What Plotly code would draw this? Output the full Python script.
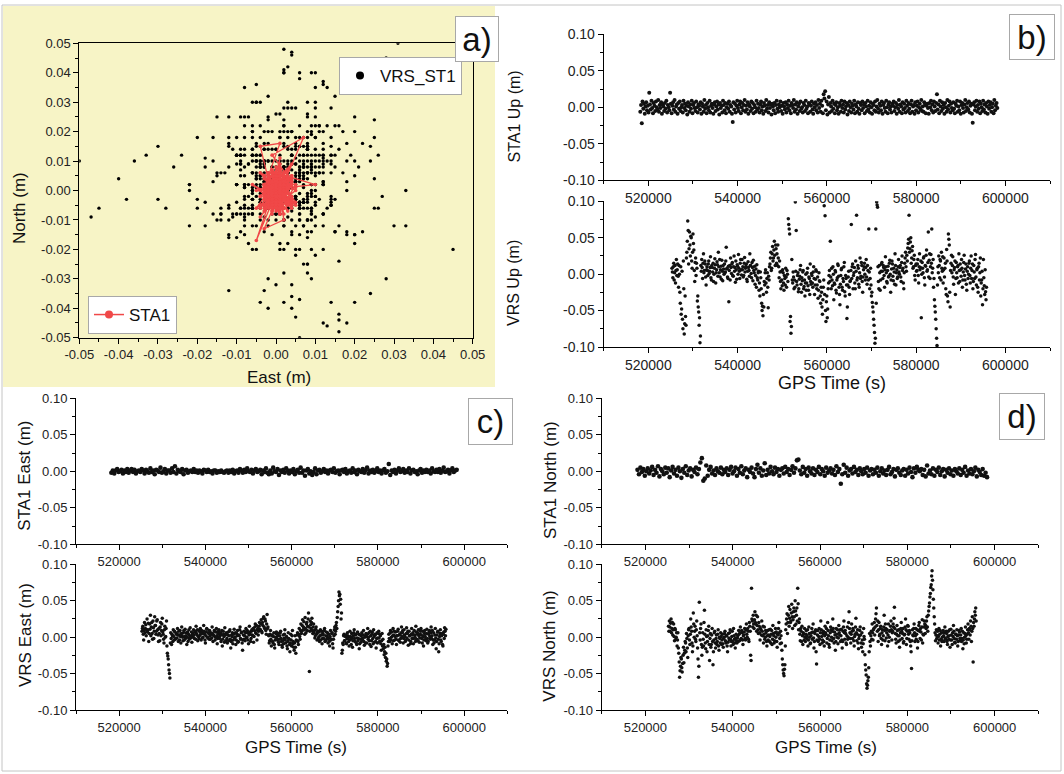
import plotly.graph_objects as go

W, H = 1064, 774
FONT = "Liberation Sans, Arial, sans-serif"

# GPS epochs: first epoch and sampling step (s); the STA1 Up record is sampled twice as often
sta1_t0, sta1_step, sta1_up_step = 518200, 335, 167
vrs_t0, vrs_step = 525300, 98

# coordinate residuals in mm (1 mm resolution)
sta1_up_mm = [
    -6, 3, -22, 8, -2, 5, -9, 1, 7, -4, 2, -7, 20, 4, -3, 9, -1, -8, 6, 2,
    -5, 8, 0, -3, 10, -6, 3, -1, 7, -9, 4, 1, -5, 6, -2, 9, -7, 3, 0, -4,
    20, 5, -8, 2, 7, -3, 10, -6, 1, 4, -9, 6, -2, 8, -5, 0, 3, -7, 9, -1,
    5, -4, 2, -10, 7, 1, -6, 4, -2, 9, -8, 3, 6, -1, -5, 8, 0, -7, 4, 2,
    -3, 7, -9, 5, 1, -6, 10, -2, 3, -8, 6, 0, -4, 9, -7, 2, 5, -1, -9, 4,
    7, -5, 1, 8, -3, 4, -10, 6, -1, 2, -7, 9, 3, -4, 6, -8, 0, 5, -2, 8,
    -6, 3, 1, -9, -20, 7, -3, 5, -7, 2, 9, -1, -5, 4, 8, -8, 0, 6, -4, 3,
    10, -6, 2, -3, 7, -9, 4, 1, -5, 8, -2, 6, -8, 3, 0, -6, 9, -3, 5, -1,
    -7, 4, 8, -4, 1, -9, 6, 2, -5, 10, -2, 3, -7, 7, -1, 4, -10, 5, 1, -4,
    6, -8, 3, 9, -2, -6, 4, 0, 8, -5, 2, -9, 6, 1, -3, 7, -7, 4, -1, 9,
    -4, 2, -8, 6, 3, -1, 10, -6, 4, -3, 7, -9, 1, 5, -5, 8, -2, 0, -7, 6,
    3, -5, 9, -2, 1, -8, 6, 4, -6, 2, 8, -3, -9, 5, 0, 7, -4, 3, -7, 10,
    -1, 5, -6, 9, 2, -8, 18, 12, 22, -4, 8, -10, 4, 14, -7, 6, 1, -5, 9, -2,
    5, -8, 3, 7, -4, 0, -9, 6, 2, -6, 9, -1, 4, -7, 8, -3, 1, 6, -10, 3,
    -5, 8, 0, -7, 5, 2, -3, 9, -8, 4, 1, -6, 7, -2, -9, 6, 3, -4, 8, -1,
    4, -8, 6, 1, -5, 9, -3, 2, -7, 7, 0, -9, 5, 3, -4, 8, -6, 1, 10, -2,
    -7, 5, 2, -4, 8, -9, 3, 6, -1, -6, 9, 0, -8, 4, 7, -3, 1, -7, 5, 2,
    8, -5, 0, 6, -9, 3, -2, 10, -6, 4, 1, -8, 7, -3, 5, -1, -7, 9, 2, -5,
    6, -2, -8, 4, 9, -6, 1, 3, -9, 7, -4, 2, 8, -7, 0, 5, -3, 10, -5, 1,
    -6, 7, 3, -8, 2, 5, -1, -9, 6, 0, 9, -4, 4, -7, 8, 1, -5, 6, 18, -3,
    4, -8, 9, 1, -5, 7, -2, 3, -9, 6, 0, -6, 10, -3, 2, 8, -7, 5, -1, -4,
    7, -2, -8, 5, 2, 9, -6, 1, -4, 8, -9, 3, 6, -1, -7, 4, 10, -5, 0, 6,
    -3, 8, -7, 2, 5, -9, -21, 4, 7, -4, 1, 9, -6, 3, -2, 8, -8, 5, 0, -5,
    9, -3, 4, -7, 6, 1, -9, 8, -2, 3, 7, -6, 0, 5, -8, 10, -4, 2, 6, -1,
]
sta1_east_mm = [
    -2, 1, -3, 1, 3, -1, 0, 2, -3, 1, -1, 3, -2, 1, 3, -1, 2, -3, 0, 1,
    -1, 3, 1, -3, 2, 0, -2, 4, -1, 1, -4, 2, 1, -1, 5, -2, 0, 3, -3, 1,
    1, -2, 4, -1, 7, -3, 2, 0, -1, 3, -4, 1, 2, -2, 0, 1, -1, 3, -1, 1,
    -2, 1, 0, -3, 2, 1, -1, 2, -1, 0, -3, 1, 1, -2, 0, -1, 1, -1, -2, 0,
    1, -2, 1, -1, 2, -3, 0, 1, -2, 3, 1, -2, 2, -1, 4, 0, -1, 2, -3, 1,
    3, -1, 0, 2, -4, 1, -1, 4, -2, -4, 1, -3, 5, 0, -1, 3, -5, 1, -1, 2,
    -2, 4, 1, -3, 1, -1, 3, -4, 0, 2, -2, 5, -2, 1, -6, 1, 3, -3, 0, -5,
    -1, 4, -4, 1, 2, -2, 0, 3, -1, 1, -3, 1, 2, -1, 4, -2, 0, 1, -4, 1,
    2, -1, 3, -3, 0, 1, -2, 4, -1, 1, -4, 2, 0, -1, 3, -2, 1, 5, -3, 1,
    -1, 2, -2, 0, 4, -1, 1, -3, 1, 3, -2, 0, 10, -5, 1, -1, 2, -3, 1, 4,
    -1, 0, 3, -2, 1, -1, 4, -3, 1, 2, -1, 0, -4, 1, 3, -2, 1, -1, 2, -1,
    1, -3, 4, 0, -1, 2, -1, 3, -2, 1, 5, -1, 0, 2, -3, 1, 4, -1, 1, 2,
]
sta1_north_mm = [
    2, -4, 5, -1, 3, -6, 0, 4, -3, 1, 6, -5, 2, -2, 7, -7, 3, 0, -4, 5,
    -2, 4, -8, 1, 6, -3, 2, -6, 5, 0, -9, 3, -2, 7, -5, 1, 4, -7, 2, -1,
    5, -4, 3, 12, 18, -13, -10, 8, -6, 2, 6, -3, 1, -5, 4, 0, -2, 5, -4, 2,
    -1, 4, -5, 2, 6, -3, 0, 5, -6, 3, -2, 7, -4, 1, 4, -8, 2, -1, 5, -3,
    -8, 3, 9, -2, 4, -6, 1, 11, -5, 2, -3, 6, 0, -4, 5, -1, 3, -6, 2, 4,
    -3, 6, -1, 3, -5, 2, 7, -2, 4, 15, 16, 1, -4, 6, -2, 3, -6, 5, 0, -3,
    4, -5, 2, -1, 6, -4, 3, 0, -6, 5, -2, 1, 4, -3, 2, -5, 7, -1, 3, -17,
    -4, 9, -2, 5, -6, 1, 3, -3, 6, -1, 2, -5, 4, 0, -4, 3, -2, 5, -6, 1,
    3, -4, 2, -2, 5, -6, 0, 4, -3, 1, -5, 2, 6, -4, -1, 3, -7, 2, 4, -2,
    -5, 1, 3, -6, 2, -3, 5, -1, -8, 4, -2, 6, 2, 0, 3, -5, 2, -7, 8, -3,
    1, -4, 4, -6, 2, -1, 5, -5, 0, 3, -7, 2, -2, 4, -4, 1, -6, 3, 0, -3,
    4, -5, 2, -2, 6, -6, 1, -3, 3, -4, 0, 5, -7, 2, -1, -5, 3, -6, -2, -8,
]
vrs_up_mm = [
    8, 3, -5, 10, 15, -8, 2, 12, -12, 5, 20, -2, 6, 14, -3, -18, 12, 0, -25, -40,
    10, -55, -48, 4, -62, -75, 18, -20, -82, -68, -30, -58, -70, 22, 30, 45, 73, 60, 14, 35,
    58, 40, 25, 52, 50, 18, 8, 30, 55, 42, 33, 5, -10, 16, 22, -2, 15, 8, -37, -30,
    -45, -52, -70, -60, -94, -85, 12, 4, 20, 9, -6, 15, 28, 2, 5, 18, 14, -4, -15, 6,
    10, 5, -2, 14, 18, 1, 4, 9, 24, -5, -8, 12, 9, 3, 15, -10, 0, 8, 21, 13,
    -12, 2, 6, 17, 13, -3, 30, 10, 2, 20, -4, 6, 11, -7, 19, 4, -9, 12, 7, 0,
    14, 2, 3, 18, 37, 7, 8, -4, -6, 11, -38, 5, 12, -8, 22, 9, 1, 14, 16, -2,
    -3, 10, 25, 4, 9, -11, 18, 6, -7, 13, 11, 0, 27, 8, 4, -6, 15, 20, 6, -1,
    20, 6, 10, -4, -2, 15, 23, 3, 8, 11, 14, -7, -10, 4, 17, 9, 5, -3, 28, 12,
    12, 1, -5, 16, 9, -9, 19, 5, 2, 11, -14, -2, 7, -18, 13, -5, -8, 2, 4, -22,
    -12, -30, 3, -5, -20, -40, -50, -44, -57, -28, -45, -10, -15, 2, 6, -12, -25, -6, 2, -18,
    -46, -3, -8, 10, 14, 22, 30, 5, 8, 28, 38, 18, 22, 33, 45, 26, 12, 40, 35, 15,
    28, 12, 40, 22, 10, -5, 18, 3, -10, -20, 4, -8, -16, 6, 2, -12, -22, -2, -6, -15,
    8, -4, -18, 5, 0, -10, 76, 68, 62, 55, -65, -58, -81, -72, 20, -8, -12, 3, -4, -20,
    -8, -18, 99, 4, 60, -10, -15, -2, 2, -24, -20, -7, -3, 6, 12, -14, -25, -5, -9, 3,
    5, -20, -17, -8, -30, -12, 0, -22, -12, 2, 8, -16, -22, -4, -6, -28, 14, -10, -14, 1,
    -2, -12, -18, 3, 10, -6, -28, -15, -7, 6, 4, -20, -15, -4, -33, -22, 2, -9, -10, -30,
    -40, -18, -25, -45, -55, -35, -18, -8, 94, -28, 80, -50, -65, -38, -30, -60, -48, -20, -12, -2,
    5, -10, 45, -4, -20, 8, -8, -16, 10, 0, -35, -12, -14, 5, 3, -22, -26, -8, -5, 14,
    12, -3, -18, -28, -42, -14, -2, 6, 8, -18, -22, -6, -10, 10, 16, -24, -30, -2, -6, -15,
    -61, -45, -15, -4, 4, -18, -28, -10, -9, 5, 68, -6, 10, 14, -20, -2, 2, 9, -12, -20,
    18, 4, 81, -8, -5, 12, 8, -14, -18, 2, 22, -6, -3, 16, 12, -10, -25, -4, 6, 10,
    15, 0, -8, 9, 20, -4, -14, 12, 5, -8, 62, 3, -20, -6, 8, -15, -30, -25, -39, -45,
    -52, -62, -70, -80, -95, -88, 62, -40, 99, 95, 92, 10, -10, -20, 12, 2, -22, -8, 4, 14,
    16, 4, -6, 12, 9, -2, -18, 6, 24, 10, 2, -10, -12, 5, 11, -4, -3, 15, 19, 0,
    -25, -8, 7, 18, 14, -3, -9, 8, 3, -14, 28, 12, -15, 2, 6, -6, -4, 10, 20, 3,
    0, 9, 12, -4, -10, 16, 25, 5, 8, -12, -20, 2, 15, 22, 30, 10, 4, 26, 18, 36,
    42, 48, 81, 30, 35, 44, 50, 15, 22, 32, 38, 8, 10, 20, 26, -2, -8, 12, 14, 4,
    5, 14, 20, -2, -12, 10, 28, 6, 9, 18, -60, 0, 16, 8, 2, 22, 24, -5, -15, 12,
    11, 26, 33, 4, 6, 16, 58, -4, 19, 28, -6, 10, 27, 15, 62, 2, 8, 20, -18, -6,
    -35, -44, -52, -62, -75, -88, -98, -15, 10, 2, 25, 12, -5, 20, 18, -8, 30, 8, 4, 24,
    -12, 6, 22, -4, 8, 15, -20, -28, 34, 18, -30, -38, 55, 48, 40, -25, -45, 5, 15, 26,
    2, 12, 24, -4, -14, 6, 9, 18, -28, -6, 16, 2, -5, 10, 12, -12, 28, 5, -10, 14,
    6, -3, 20, 8, -18, -8, 3, 16, 26, -2, -8, 7, 14, -14, -22, 4, 10, -6, 0, 15,
    18, -2, -12, 8, 25, -6, 5, 14, -20, -10, 12, 3, -6, 20, 27, -4, -15, 6, 8, -18,
    -25, 10, 15, -8, 2, 22, -30, -12, -8, 4, -42, -20, 20, -5, -16, -28, 6, -24, -35, -18,
]
vrs_east_mm = [
    8, 12, 15, 4, -4, 9, 20, 6, 12, 17, 2, 10, 25, 7, 10, 19, -6, 5, 18, 11,
    30, 2, 14, 20, 5, -3, 22, 13, -2, 8, 28, 16, 16, 4, 8, 22, 24, 10, 3, -6,
    12, 5, -5, 14, 20, 2, 9, 18, 26, 7, 4, -3, -8, 10, 15, 0, 1, 12, 22, -12,
    -22, -26, -30, -38, -45, -50, -56, -8, 6, -2, -10, 4, 2, -6, 10, 1, -4, 8, 7, -3,
    -2, 4, 5, -1, 12, 3, -6, 8, 3, -4, 9, 1, -8, 5, 14, 2, 0, -5, 6, 9,
    -4, 1, 11, -2, 2, 6, -10, 0, 7, -6, 4, 10, -3, 2, 13, -1, 1, 7, -7, 3,
    5, 0, 10, 3, -2, 7, 8, -3, 15, 5, 3, 10, -5, 1, 9, -2, 2, 7, 12, 4,
    -4, 9, 6, -1, 0, 5, 16, 8, 4, -4, -8, 2, 7, 12, 11, 0, -1, 6, 5, -3,
    9, 2, -3, 6, 4, -1, 14, 5, -6, 3, 2, 9, 8, -4, 0, 7, 12, 2, -9, -2,
    5, 8, 10, 1, -2, 4, 6, -6, 3, 9, -12, -3, 8, 4, 1, -7, 13, 3, -5, 6,
    4, -2, -8, 3, 7, -5, 2, 8, 10, -3, -15, -6, 3, 1, 6, -9, -4, 4, 11, -1,
    0, 6, -10, -4, 5, 2, 9, -7, -6, 3, 2, 10, 14, -2, -3, 6, 7, -8, -18, -4,
    3, -3, 8, 2, -5, 6, 12, -1, 0, 9, 6, -4, -9, 3, 15, 7, 4, -6, -2, 8,
    10, 3, 2, 12, -7, 1, 9, 14, 18, 6, 5, 16, -4, 10, 12, 3, 8, 15, 20, 11,
    10, 18, 24, 8, 6, 20, 16, 26, 28, 14, 12, 25, 22, 9, 4, 18, 31, 12, 14, 3,
    2, -8, -5, 4, 9, -3, -12, 2, 3, -6, -8, 1, 6, -10, -15, -4, 0, 5, 7, -2,
    -4, 2, 5, -7, -10, -3, 2, 6, 8, -2, -6, -11, -14, -5, 3, -9, -2, 4, 10, -4,
    -8, 0, 1, -12, -16, -6, 6, -2, -3, -10, -20, -8, 4, -4, -12, 2, 9, -9, -6, -14,
    -18, -8, 2, -14, -22, -4, -5, 3, 6, -6, -10, 4, 12, 1, -3, 9, 18, 5, 8, 16,
    24, 10, 14, 21, 10, 4, 27, 12, 6, 18, 20, 9, 15, 25, 33, 14, -47, 8, 22, 17,
    12, 20, 26, 9, 5, 14, 18, 6, 9, -1, 2, 11, 14, 4, -4, 6, 8, -3, 0, 7,
    -6, 2, 10, -4, 3, 8, -9, -2, 5, 3, -2, 9, 12, -6, -5, 2, 7, -3, 1, 6,
    -8, -2, 4, -6, -12, 1, 9, -4, -3, 5, 6, -9, -15, -3, 2, 10, 14, 4, 8, 16,
    20, 12, 27, 35, 42, 50, 62, 57, 59, 45, 52, 25, 33, -22, -18, -8, -10, 2, 4, -5,
    -5, 1, 3, -8, -9, -2, 6, 2, 0, -6, -12, -4, 8, 1, -3, -10, 5, -1, -14, -5,
    2, 6, 10, -2, -6, 3, 4, -8, -10, -1, 7, -5, -2, 4, -16, -9, 3, -3, -7, 2,
    6, -2, -4, 3, 9, -6, -11, 0, 2, -8, 5, 1, -8, 4, 12, -3, 0, 6, -5, -10,
    8, 2, -13, -5, 4, 7, -2, -9, 10, 1, -7, 4, 3, -6, -15, -2, 6, -8, -1, 5,
    8, -1, -6, 4, 2, -9, -18, -5, 5, -12, -3, -16, -10, -24, -20, -14, -28, -22, -33, -30,
    -40, -36, -12, -6, 4, -2, -6, 6, 9, -4, 0, 7, -9, 2, 12, -5, 3, 8, -4, 1,
    7, -3, -10, 2, 2, 8, 11, -4, -5, 3, 4, -7, -2, 6, 14, 1, 6, 9, -8, -2,
    10, 3, 1, -6, -4, 5, 13, -1, 5, 8, -11, -4, 8, 2, 2, -9, -6, 4, 12, -2,
    3, 6, -9, -2, 9, 3, 0, -6, 15, 7, -3, 4, 6, -5, 10, 2, -7, -1, 4, 8,
    12, 3, -2, -8, 8, 1, -12, -4, 5, 9, 1, -3, -5, 5, 11, -2, -8, -6, 4, 7,
    9, 1, -3, 6, 14, -2, 2, 9, -10, -4, 6, -8, -4, 3, 12, -1, -16, -6, 3, 7,
    8, -3, -20, -9, 1, 5, 10, -4, -6, 2, 5, -10, -12, 4, 7, -2, 13, 8, 2, 11,
]
vrs_north_mm = [
    15, 8, 22, 14, 8, 19, 25, 6, 12, 20, 3, 10, 18, 1, -5, 12, 10, -3, 0, 6,
    -12, -4, 6, -15, -22, -34, -55, -46, -40, -28, -30, -42, -48, -36, -25, -14, -35, -22, -18, -6,
    -8, -20, 5, -2, -15, -28, 2, 10, 12, -4, -10, 4, 25, 14, 8, -8, -20, -12, 33, 18,
    0, 8, 15, -3, -6, 10, 22, 2, -15, -30, -55, -40, 48, 6, -4, 12, 18, -10, -25, -14,
    6, -3, -12, 20, 37, 4, -8, -16, 10, 1, -20, -6, 2, 9, 15, -10, -32, -2, 5, -14,
    -10, 3, 12, -6, -38, -20, -4, 6, 8, -8, -15, -2, 3, -10, -6, 4, 10, -12, -18, 0,
    -2, -8, 6, 1, -10, -4, 4, -9, -14, -2, 0, 5, 8, -5, -8, 2, 2, -12, -20, -7,
    5, -1, -4, 6, 10, -3, -12, -6, 1, 8, -6, -10, 12, 2, -3, -8, -15, -1, 4, -5,
    -8, -1, 2, -6, 9, 4, -5, 6, 14, -3, -2, 9, 6, -4, -10, 2, 3, 7, 12, -2,
    -4, 10, 18, 4, 0, 12, 8, -3, -6, 20, 15, 8, -25, -32, 67, 25, 22, 14, 30, 18,
    12, 24, 35, 20, 18, 30, 8, 16, 28, 10, 5, 20, 15, 6, -4, 12, 10, 3, 22, 8,
    2, 15, -8, 4, 14, -3, 0, 9, 6, -6, -12, 2, 9, -4, 3, 10, -6, 1, 11, -8,
    4, 9, -10, -3, 16, 5, 2, -8, -5, 6, 12, 0, 7, -6, -14, 4, 3, 12, 20, 6,
    -2, -9, 8, 2, -8, -18, -30, -38, -45, -50, -53, -44, -38, -12, 10, 18, 25, 32, 5, 20,
    30, 42, 15, 26, 38, 20, 22, 33, 45, 28, 12, 24, 35, 40, 28, 16, 50, 36, 18, 30,
    40, 22, 67, 46, 10, 20, 25, 4, -5, 12, 8, -6, 15, 2, -10, 6, 4, -4, 12, 0,
    -6, 4, 9, -2, 2, 10, -12, -4, 14, 5, 0, -9, -8, 2, 6, 12, -3, 7, 18, -1,
    -15, -6, 5, 8, 10, -20, -37, -4, 3, 9, -6, 1, 12, -3, -10, 6, 22, 10, 1, -8,
    -4, 5, 8, -6, -12, 2, 15, 6, 4, 12, -8, -2, 20, 9, 2, -10, -14, -4, 6, 14,
    10, 0, -5, 8, 25, 12, -2, -8, 7, 3, -18, -6, 12, 4, 0, 10, -9, -1, 16, 6,
    3, 10, -6, 2, 11, -4, -15, -6, 8, 14, 22, 6, -3, 9, 5, -8, -10, 2, 14, -3,
    0, 20, 35, 12, 6, -2, -8, 4, 18, 8, -2, 12, 9, -5, -12, 1, 4, 14, 26, 6,
    -5, 4, 10, -8, -16, -2, 2, 9, 14, 3, -8, -14, 6, -4, -20, -9, 12, 1, -3, -24,
    -38, -45, -52, -64, -70, -66, -60, -55, -42, -20, 5, -6, -12, 2, 8, -3, 18, 6, -4, 10,
    12, 20, 3, 14, 25, 32, 40, 16, 8, 22, -6, 10, 20, 2, 4, 12, 15, -2, -10, 6,
    10, -4, 2, 14, 30, 9, -5, 18, 12, -1, 6, 10, -12, 3, 18, -6, 0, 8, 9, 15,
    22, 10, -4, 6, 8, 18, 14, 26, 41, 12, 5, -3, -8, 4, 16, 9, 2, -6, 10, 2,
    -14, -4, 6, 12, 20, 8, -2, 5, 12, -8, -6, 3, 4, 14, 25, 10, -10, -2, 8, 16,
    15, 4, -3, 9, 6, -6, -12, -20, -43, -5, 10, 3, 2, 12, 18, 6, -6, 2, 12, -3,
    4, 10, -15, -6, 9, 16, 20, 8, -2, 12, 7, -4, 14, 24, -8, 4, 3, 14, 22, 18,
    5, 16, 12, 22, 28, 14, 8, 30, 36, 42, 47, 55, 60, 68, 72, 84, 91, 78, 65, 52,
    40, 28, 18, 6, -5, 3, 10, -2, 2, 8, -8, 1, 12, -4, 4, 9, -12, -3, 6, -6,
    0, -5, 9, 2, -6, 6, 14, -1, -3, 8, 5, -6, -10, 1, 8, -3, 2, 10, -14, -4,
    11, 3, -4, -10, 6, 1, 16, 8, -2, -7, -8, 4, 4, -3, 10, 2, -12, -6, 3, 9,
    7, -2, -5, 3, 12, -6, -2, 8, -16, -4, 6, -9, 0, 5, 14, 2, -8, -3, 4, 10,
    18, 6, -3, 12, 10, 3, 22, 15, -6, 8, 28, 12, -34, 20, 15, 25, 35, 30, 40, 22,
]

en_tick_vals = [-0.05, -0.04, -0.03, -0.02, -0.01, 0.0, 0.01, 0.02, 0.03, 0.04, 0.05]
en_tick_text = ["-0.05", "-0.04", "-0.03", "-0.02", "-0.01", "0.00",
                "0.01", "0.02", "0.03", "0.04", "0.05"]
res_tick_vals = [-0.10, -0.05, 0.0, 0.05, 0.10]
res_tick_text = ["-0.10", "-0.05", "0.00", "0.05", "0.10"]
time_tick_vals = [520000, 540000, 560000, 580000, 600000]
time_tick_text = ["520000", "540000", "560000", "580000", "600000"]


def to_m(vals):
    return [v / 1000 for v in vals]


def epochs(t0, step, n):
    return [t0 + k * step for k in range(n)]


sta1_up_time = epochs(sta1_t0, sta1_up_step, len(sta1_up_mm))
sta1_time = epochs(sta1_t0, sta1_step, len(sta1_east_mm))
vrs_time = epochs(vrs_t0, vrs_step, len(vrs_up_mm))


def px(x):
    return x / W


def py(y):
    return 1 - y / H


fig = go.Figure()

# a) horizontal scatter
fig.add_trace(go.Scatter(x=to_m(vrs_east_mm), y=to_m(vrs_north_mm), mode="markers",
                         marker=dict(color="black", size=3.4), showlegend=False,
                         xaxis="x", yaxis="y"))
fig.add_trace(go.Scatter(x=to_m(sta1_east_mm), y=to_m(sta1_north_mm), mode="lines+markers",
                         line=dict(color="#F04848", width=1.3), marker=dict(color="#F04848", size=3.6),
                         showlegend=False, xaxis="x", yaxis="y"))
# legend entries only
fig.add_trace(go.Scatter(x=[None], y=[None], mode="markers", name="VRS_ST1",
                         marker=dict(color="black", size=8), xaxis="x", yaxis="y", legend="legend"))
fig.add_trace(go.Scatter(x=[None], y=[None], mode="lines+markers", name="STA1",
                         line=dict(color="#F04848", width=1.5), marker=dict(color="#F04848", size=8),
                         xaxis="x", yaxis="y", legend="legend2"))

# time series panels
series = [
    (sta1_up_time, sta1_up_mm, "x2", "y2", 4),
    (vrs_time, vrs_up_mm, "x3", "y3", 3.5),
    (sta1_time, sta1_east_mm, "x4", "y4", 4.6),
    (vrs_time, vrs_east_mm, "x5", "y5", 3.5),
    (sta1_time, sta1_north_mm, "x6", "y6", 4.6),
    (vrs_time, vrs_north_mm, "x7", "y7", 3.5),
]
for t, v, xa, ya, ms in series:
    fig.add_trace(go.Scatter(x=t, y=to_m(v), mode="markers",
                             marker=dict(color="#111111", size=ms), showlegend=False,
                             xaxis=xa, yaxis=ya))


def axis(dom, anchor, rng, vals, text, minor, fsize, mirror=False):
    return dict(domain=dom, anchor=anchor, range=rng, automargin=False, tickmode="array",
                tickvals=vals, ticktext=text, ticks="outside", ticklen=5,
                tickwidth=1, tickcolor="black",
                minor=dict(tickmode="linear", tick0=0, dtick=minor, ticks="outside",
                           ticklen=3, tickwidth=1, tickcolor="black", showgrid=False),
                showline=True, linecolor="black", linewidth=1, mirror=mirror,
                showgrid=False, zeroline=False,
                tickfont=dict(family=FONT, size=fsize, color="#222222"))


t_rng = [510000, 610000]
r_rng = [-0.1, 0.1]
xa_dom = [px(79.3), px(472.7)]
ya_dom = [py(337.7), py(43.3)]
xb_dom = [px(603.7), px(1050)]
xc_dom = [px(76), px(507.3)]
xd_dom = [px(601.7), px(1038.3)]
top1 = [py(180.3), py(34.3)]
top2 = [py(347), py(201.3)]
bot1 = [py(544.3), py(398.3)]
bot2 = [py(710), py(564.3)]

fig.update_layout(
    xaxis=axis(xa_dom, "y", [-0.05, 0.05], en_tick_vals, en_tick_text, 0.005, 13, True),
    yaxis=axis(ya_dom, "x", [-0.05, 0.05], en_tick_vals, en_tick_text, 0.005, 13, True),
    xaxis2=axis(xb_dom, "y2", t_rng, time_tick_vals, time_tick_text, 10000, 14),
    yaxis2=axis(top1, "x2", r_rng, res_tick_vals, res_tick_text, 0.025, 14),
    xaxis3=axis(xb_dom, "y3", t_rng, time_tick_vals, time_tick_text, 10000, 14),
    yaxis3=axis(top2, "x3", r_rng, res_tick_vals, res_tick_text, 0.025, 14),
    xaxis4=axis(xc_dom, "y4", t_rng, time_tick_vals, time_tick_text, 10000, 13),
    yaxis4=axis(bot1, "x4", r_rng, res_tick_vals, res_tick_text, 0.025, 13),
    xaxis5=axis(xc_dom, "y5", t_rng, time_tick_vals, time_tick_text, 10000, 13),
    yaxis5=axis(bot2, "x5", r_rng, res_tick_vals, res_tick_text, 0.025, 13),
    xaxis6=axis(xd_dom, "y6", t_rng, time_tick_vals, time_tick_text, 10000, 13),
    yaxis6=axis(bot1, "x6", r_rng, res_tick_vals, res_tick_text, 0.025, 13),
    xaxis7=axis(xd_dom, "y7", t_rng, time_tick_vals, time_tick_text, 10000, 13),
    yaxis7=axis(bot2, "x7", r_rng, res_tick_vals, res_tick_text, 0.025, 13),
)

legend_style = dict(xanchor="left", yanchor="top", bgcolor="white", bordercolor="#A8A8A8",
                    borderwidth=1, font=dict(family=FONT, size=17, color="#111111"),
                    itemclick=False)
fig.update_layout(
    legend=dict(x=px(339), y=py(57), **legend_style),
    legend2=dict(x=px(88), y=py(296), **legend_style),
)

# yellow panel behind a) and thin frame around everything
fig.add_shape(type="rect", xref="paper", yref="paper", x0=px(3), x1=px(495), y0=py(387), y1=py(6),
              fillcolor="#F7F4C6", line=dict(width=0), layer="below")
fig.add_shape(type="rect", xref="paper", yref="paper", x0=px(2), x1=px(1061), y0=py(771), y1=py(5),
              fillcolor="rgba(0,0,0,0)", line=dict(color="#C4C4C4", width=1), layer="below")

# panel tags
for txt, cx, cy, w, h in [("a)", 476.5, 38.5, 44, 46), ("b)", 1032, 37, 46, 46),
                          ("c)", 490, 421, 45, 47), ("d)", 1021.5, 417, 46, 47)]:
    fig.add_annotation(text=txt, x=px(cx), y=py(cy), xref="paper", yref="paper",
                       xanchor="center", yanchor="middle", showarrow=False,
                       width=w - 2, height=h - 2, borderpad=0, bgcolor="white",
                       bordercolor="#A8A8A8", borderwidth=1,
                       font=dict(family=FONT, size=33, color="#111111"))

# axis titles
titles = [
    ("North (m)", 20, 208, -90, 17), ("East (m)", 279, 377, 0, 17),
    ("STA1 Up (m)", 513.5, 117, -90, 16), ("VRS Up (m)", 513.5, 283.5, -90, 16),
    ("GPS Time (s)", 832, 383, 0, 18),
    ("STA1 East (m)", 25, 475.7, -90, 17), ("VRS East (m)", 25, 635, -90, 17),
    ("GPS Time (s)", 296.3, 747.7, 0, 17),
    ("STA1 North (m)", 550, 480, -90, 17), ("VRS North (m)", 550, 646.7, -90, 17),
    ("GPS Time (s)", 825.5, 747.7, 0, 17),
]
for txt, cx, cy, ang, fs in titles:
    fig.add_annotation(text=txt, x=px(cx), y=py(cy), xref="paper", yref="paper",
                       xanchor="center", yanchor="middle", showarrow=False, textangle=ang,
                       font=dict(family=FONT, size=fs, color="#111111"))

fig.update_layout(width=W, height=H, margin=dict(l=0, r=0, t=0, b=0),
                  paper_bgcolor="white", plot_bgcolor="rgba(0,0,0,0)",
                  font=dict(family=FONT, color="#111111"), showlegend=True)

# the page's default body margin would push the figure 8 px off the window corner
fig.write_html("out.html", config={"displayModeBar": False},
               post_script="document.body.style.margin='0';document.body.style.overflow='hidden';")
